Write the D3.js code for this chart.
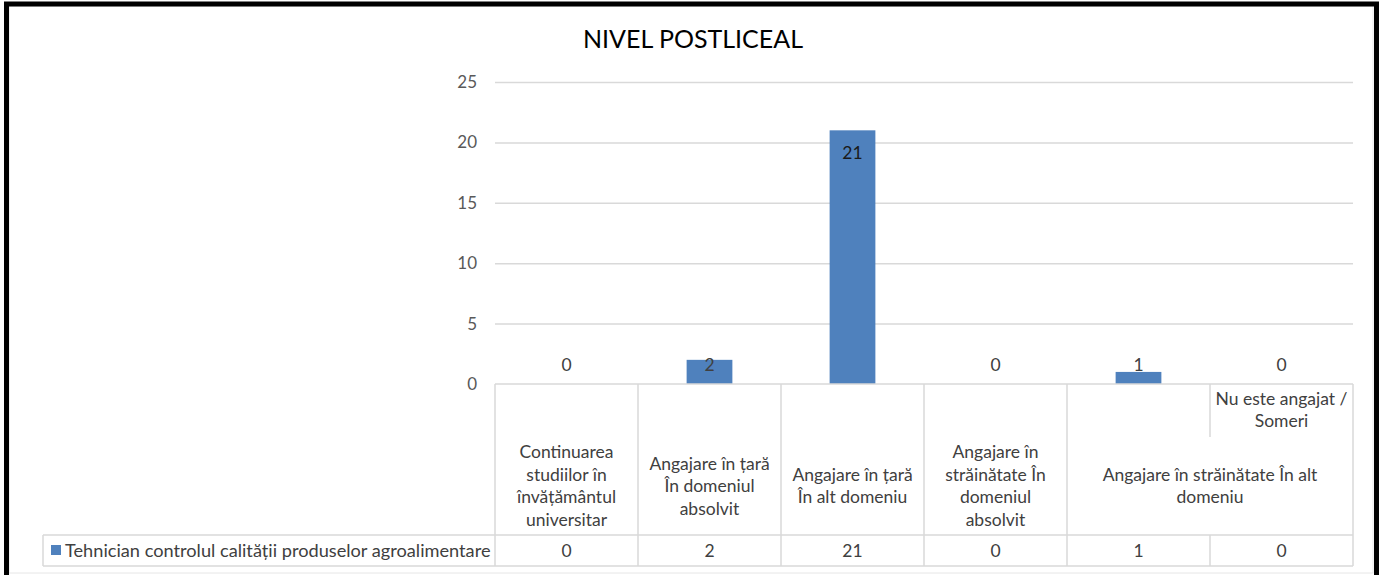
<!DOCTYPE html>
<html>
<head>
<meta charset="utf-8">
<script src="https://cdn.jsdelivr.net/npm/d3@7"></script>
<style>
  body { margin: 0; background: #fff; }
  svg { display: block; font-family: Lato, "Open Sans", sans-serif; }
</style>
</head>
<body>
<svg id="chart"></svg>
<script>
// Chart data
const title = "NIVEL POSTLICEAL";
const seriesName = "Tehnician controlul calității produselor agroalimentare";
const categories = [
  "Continuarea studiilor în învățământul universitar",
  "Angajare în țară În domeniul absolvit",
  "Angajare în țară În alt domeniu",
  "Angajare în străinătate În domeniul absolvit",
  "Angajare în străinătate În alt domeniu",
  "Nu este angajat / Someri",
];
const values = [0, 2, 21, 0, 1, 0];
const yTicks = [0, 5, 10, 15, 20, 25];

// header line breaks as in the original table
const headerLines = [
  ["Continuarea", "studiilor în", "învățământul", "universitar"],
  ["Angajare în țară", "În domeniul", "absolvit"],
  ["Angajare în țară", "În alt domeniu"],
  ["Angajare în", "străinătate În", "domeniul", "absolvit"],
  ["Angajare în străinătate În alt", "domeniu"],
  ["Nu este angajat /", "Someri"],
];

const width = 1384;
const height = 575;
const plotLeft = 495;
const plotRight = 1353;
const plotTop = 82;
const plotBottom = 384;
const tableMid = 535;
const tableBottom = 566;
const legendLeft = 43;
const barColor = "#4f81bd";
const gridColor = "#d9d9d9";
const fontSize = 17.5;

const svg = d3.select("#chart").attr("width", width).attr("height", height);

// frame
svg.append("rect")
  .attr("x", 9).attr("y", 6).attr("width", 1364).attr("height", 567)
  .attr("fill", "#fff").attr("stroke", "#e6e6e6").attr("stroke-width", 1);
svg.append("rect")
  .attr("x", 6.5).attr("y", 4).attr("width", 1370).attr("height", 600)
  .attr("fill", "none").attr("stroke", "#000").attr("stroke-width", 5);

const x = d3.scaleBand()
  .domain(categories)
  .range([plotLeft, plotRight])
  .paddingInner(0.68)
  .paddingOuter(0.34);

const y = d3.scaleLinear().domain([0, 25]).range([plotBottom, plotTop]);

// title
svg.append("text")
  .attr("x", 693).attr("y", 48)
  .attr("text-anchor", "middle")
  .attr("font-size", 25)
  .attr("fill", "#000")
  .text(title);

// y axis with gridlines
const yAxis = svg.append("g")
  .attr("transform", `translate(${plotLeft},0)`)
  .call(d3.axisLeft(y).tickValues(yTicks).tickSize(-(plotRight - plotLeft)).tickPadding(18));
yAxis.select(".domain").remove();
yAxis.selectAll(".tick line").attr("stroke", gridColor).attr("stroke-width", 1.5);
yAxis.selectAll(".tick text")
  .attr("font-size", 17)
  .attr("fill", "#595959")
  .attr("font-family", "Lato, sans-serif");
yAxis.selectAll(".tick").filter((d) => d === 0).select("line").remove();

// bars
svg.append("g")
  .selectAll("rect")
  .data(values)
  .enter()
  .append("rect")
  .attr("x", (d, i) => x(categories[i]))
  .attr("y", (d) => y(d))
  .attr("width", x.bandwidth())
  .attr("height", (d) => y(0) - y(d))
  .attr("fill", barColor);

// data labels
svg.append("g")
  .selectAll("text")
  .data(values)
  .enter()
  .append("text")
  .attr("x", (d, i) => x(categories[i]) + x.bandwidth() / 2)
  .attr("y", (d) => Math.min(y(d) + 23, y(0) - 19) + 6)
  .attr("text-anchor", "middle")
  .attr("font-size", fontSize)
  .attr("fill", (d) => (d > 5 ? "#1a1a1a" : "#404040"))
  .text((d) => d);

// data table
const step = x.step();
const table = svg.append("g")
  .attr("stroke", gridColor)
  .attr("stroke-width", 1.5)
  .attr("fill", "none");

// horizontal lines
table.append("line")
  .attr("x1", plotLeft).attr("x2", plotRight)
  .attr("y1", plotBottom).attr("y2", plotBottom);
table.append("line")
  .attr("x1", legendLeft).attr("x2", plotRight)
  .attr("y1", tableMid).attr("y2", tableMid);
table.append("line")
  .attr("x1", legendLeft).attr("x2", plotRight)
  .attr("y1", tableBottom).attr("y2", tableBottom);
table.append("line")
  .attr("x1", legendLeft).attr("x2", legendLeft)
  .attr("y1", tableMid).attr("y2", tableBottom);

// vertical lines
categories.forEach((c, i) => {
  const xl = plotLeft + i * step;
  let y1 = plotBottom;
  if (i === 5) {
    // merged header: short piece at the top and the value row only
    table.append("line")
      .attr("x1", xl).attr("x2", xl)
      .attr("y1", plotBottom).attr("y2", 437);
    y1 = tableMid;
  }
  table.append("line")
    .attr("x1", xl).attr("x2", xl)
    .attr("y1", y1).attr("y2", tableBottom);
});
table.append("line")
  .attr("x1", plotRight).attr("x2", plotRight)
  .attr("y1", plotBottom).attr("y2", tableBottom);

// header texts
const lineH = 22.5;
headerLines.forEach((lines, i) => {
  let cx = x(categories[i]) + x.bandwidth() / 2;
  let cy = 486;
  if (i === 4) cx = plotLeft + 5 * step;
  if (i === 5) cy = 410;
  const t = svg.append("text")
    .attr("text-anchor", "middle")
    .attr("font-size", fontSize)
    .attr("fill", "#404040");
  lines.forEach((ln, k) => {
    t.append("tspan")
      .attr("x", cx)
      .attr("y", cy + (k - (lines.length - 1) / 2) * lineH + 6)
      .text(ln);
  });
});

// value row
svg.append("g")
  .selectAll("text")
  .data(values)
  .enter()
  .append("text")
  .attr("x", (d, i) => x(categories[i]) + x.bandwidth() / 2)
  .attr("y", (tableMid + tableBottom) / 2 + 6)
  .attr("text-anchor", "middle")
  .attr("font-size", fontSize)
  .attr("fill", "#404040")
  .text((d) => d);

// legend key
svg.append("rect")
  .attr("x", 51).attr("y", 545)
  .attr("width", 10).attr("height", 10)
  .attr("fill", barColor);
svg.append("text")
  .attr("x", 65).attr("y", (tableMid + tableBottom) / 2 + 6)
  .attr("font-size", 18.2)
  .attr("fill", "#404040")
  .text(seriesName);
</script>
</body>
</html>
